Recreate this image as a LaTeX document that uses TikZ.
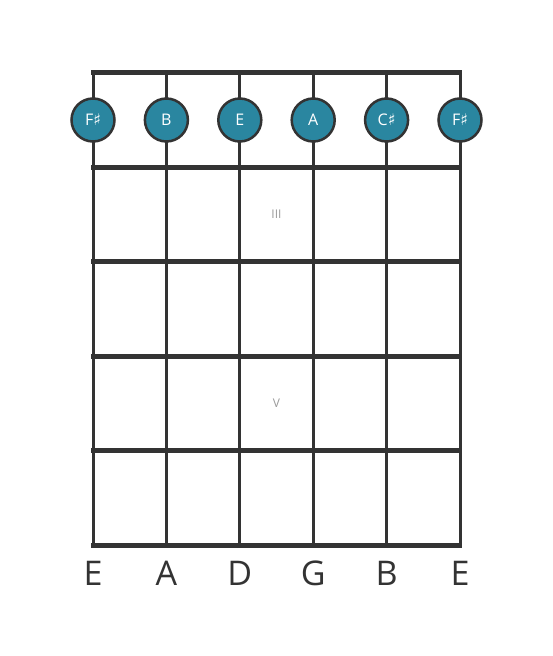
\documentclass[tikz,border=0pt]{standalone}
\usepackage{fontspec}
\setmainfont{Open Sans}
\newfontfamily\symfont{DejaVu Sans}
\definecolor{wire}{HTML}{333333}
\definecolor{dot}{HTML}{2A86A0}
\definecolor{numeral}{HTML}{9A9A9A}
\newcommand{\shp}{{\symfont\char"266F}}
\tikzset{
  fret/.style={wire, line width=5pt},
  string/.style={wire, line width=3pt},
  note/.style={circle, draw=wire, line width=2.5pt, fill=dot, minimum size=43pt,
    inner sep=0pt, text=white, font=\fontsize{16}{16}\selectfont},
  tuning/.style={text=wire, font=\fontsize{34}{34}\selectfont},
  position/.style={text=numeral, font=\fontsize{12}{12}\selectfont}
}

\begin{document}
\begin{tikzpicture}[x=1pt, y=-1pt]
      \useasboundingbox (0, 0) rectangle (553, 656);
      % strings
      \foreach \sx in {93, 166.4, 239.8, 313.2, 386.6, 460}
        \draw[string] (\sx, 72) -- (\sx, 545);
      % frets
      \draw[fret] (91, 72) -- (462, 72);
      \draw[fret] (91, 167) -- (462, 167);
      \draw[fret] (91, 261.5) -- (462, 261.5);
      \draw[fret] (91, 356) -- (462, 356);
      \draw[fret] (91, 450.5) -- (462, 450.5);
      \draw[fret] (91, 545) -- (462, 545);
      % position marks
      \node[position] (pos3) at (276.5, 214) {III};
      \node[position] (pos5) at (276.5, 403) {V};
      % open notes
      \node[note] (n1) at (93, 120) {F\shp};
      \node[note] (n2) at (166.4, 120) {B};
      \node[note] (n3) at (239.8, 120) {E};
      \node[note] (n4) at (313.2, 120) {A};
      \node[note] (n5) at (386.6, 120) {C\shp};
      \node[note] (n6) at (460, 120) {F\shp};
      % tuning
      \node[tuning] (t1) at (93, 573) {E};
      \node[tuning] (t2) at (166.4, 573) {A};
      \node[tuning] (t3) at (239.8, 573) {D};
      \node[tuning] (t4) at (313.2, 573) {G};
      \node[tuning] (t5) at (386.6, 573) {B};
      \node[tuning] (t6) at (460, 573) {E};
    \end{tikzpicture}
\end{document}
